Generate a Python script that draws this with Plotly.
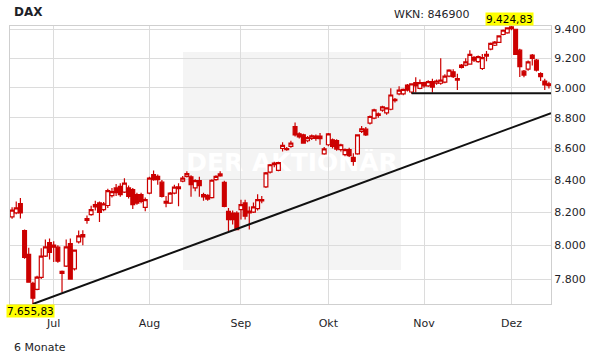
import numpy as np
import pandas as pd
import plotly.graph_objects as go

# ---------------- data ----------------
dates = pd.bdate_range("2013-06-17", "2013-12-13")

opens = [8171, 8196, 8253, 8088, 7945, 7775, 7740, 7810, 7935, 8016,
         8000, 7988, 7845, 7876, 8010, 7860, 8020, 8064, 8161, 8185,
         8247, 8257, 8216, 8241, 8302, 8350, 8360, 8324, 8350, 8339,
         8308, 8308, 8230, 8318, 8433, 8423, 8386, 8266, 8256, 8318,
         8345, 8392, 8422, 8420, 8350, 8396, 8308, 8304, 8290, 8402,
         8425, 8385, 8205, 8195, 8195, 8216, 8257, 8206, 8200, 8222,
         8277, 8356, 8449, 8507, 8460, 8600, 8600, 8613, 8742, 8695,
         8688, 8650, 8665, 8665, 8680, 8566, 8624, 8656, 8651, 8592,
         8560, 8592, 8543, 8566, 8710, 8725, 8765, 8798, 8825, 8850,
         8832, 8856, 8922, 8958, 8958, 9018, 8971, 9034, 8996, 9034,
         9012, 9041, 9030, 9030, 9038, 9078, 9108, 9062, 9138, 9153,
         9160, 9204, 9177, 9130, 9227, 9263, 9290, 9310, 9365, 9376,
         9418, 9402, 9256, 9112, 9126, 9222, 9187, 9096, 9045, 9026]
highs = [8230, 8265, 8287, 8095, 7985, 7785, 7820, 7982, 8034, 8040,
         8024, 8000, 7850, 8034, 8040, 7975, 8088, 8090, 8180, 8240,
         8270, 8265, 8262, 8345, 8350, 8375, 8380, 8410, 8365, 8350,
         8320, 8320, 8290, 8420, 8460, 8435, 8400, 8300, 8325, 8370,
         8380, 8425, 8455, 8430, 8405, 8420, 8320, 8310, 8405, 8430,
         8455, 8395, 8226, 8210, 8205, 8277, 8277, 8235, 8260, 8310,
         8300, 8450, 8500, 8515, 8515, 8640, 8610, 8650, 8768, 8705,
         8695, 8680, 8690, 8690, 8700, 8610, 8700, 8665, 8660, 8630,
         8600, 8605, 8570, 8690, 8745, 8740, 8815, 8860, 8835, 8880,
         8870, 8996, 8930, 9010, 8995, 9025, 9030, 9070, 9055, 9040,
         9050, 9060, 9055, 9200, 9090, 9125, 9125, 9095, 9160, 9200,
         9255, 9215, 9220, 9230, 9250, 9310, 9320, 9360, 9400, 9415,
         9424.83, 9405, 9265, 9120, 9185, 9230, 9195, 9105, 9060, 9040]
lows = [8160, 8188, 8161, 7920, 7778, 7655.83, 7735, 7800, 7930, 7915,
        7900, 7895, 7722, 7870, 7798, 7850, 8010, 8000, 8130, 8178,
        8210, 8140, 8205, 8225, 8290, 8300, 8295, 8318, 8285, 8220,
        8245, 8255, 8205, 8310, 8395, 8370, 8290, 8230, 8250, 8310,
        8237, 8385, 8415, 8295, 8330, 8295, 8270, 8270, 8285, 8395,
        8420, 8230, 8084, 8125, 8090, 8155, 8155, 8094, 8195, 8210,
        8255, 8350, 8440, 8480, 8455, 8580, 8585, 8605, 8678, 8665,
        8630, 8640, 8655, 8650, 8624, 8560, 8615, 8600, 8585, 8580,
        8550, 8545, 8490, 8560, 8700, 8680, 8755, 8790, 8800, 8840,
        8820, 8850, 8900, 8950, 8950, 8975, 8960, 8968, 8990, 9000,
        9005, 8968, 9020, 9020, 9030, 9070, 9065, 8984, 9130, 9145,
        9155, 9175, 9170, 9120, 9180, 9255, 9285, 9305, 9360, 9370,
        9395, 9225, 9072, 9070, 9115, 9150, 9110, 9045, 8984, 8995]
closes = [8212, 8227, 8196, 7927, 7782, 7689, 7811, 7935, 7990, 7957,
          7988, 7905, 7833, 7990, 7800, 7970, 8056, 8050, 8149, 8216,
          8232, 8199, 8251, 8333, 8327, 8320, 8308, 8380, 8297, 8247,
          8256, 8266, 8277, 8412, 8402, 8402, 8297, 8256, 8318, 8355,
          8357, 8412, 8440, 8371, 8396, 8365, 8294, 8281, 8398, 8423,
          8439, 8236, 8155, 8155, 8094, 8247, 8175, 8196, 8233, 8277,
          8270, 8444, 8496, 8496, 8510, 8620, 8592, 8634, 8688, 8674,
          8635, 8670, 8681, 8680, 8664, 8598, 8695, 8613, 8596, 8624,
          8592, 8554, 8518, 8688, 8727, 8688, 8808, 8852, 8815, 8872,
          8865, 8951, 8913, 8984, 8988, 8984, 9025, 9012, 9034, 9012,
          9041, 9004, 9045, 9051, 9078, 9119, 9075, 9051, 9153, 9175,
          9227, 9187, 9211, 9204, 9215, 9303, 9312, 9355, 9395, 9411,
          9407, 9227, 9142, 9085, 9176, 9199, 9119, 9075, 9018, 9014]

month_labels = ["Jul", "Aug", "Sep", "Okt", "Nov", "Dez"]
y_tick_values = [7800, 8000, 8200, 8400, 8600, 8800, 9000, 9200, 9400]

support_level = 8962
support_start = "2013-10-29"
trend_end_value = 8830
wkn = "846900"

# ---------------- helpers ----------------
W, H = 611, 364
ML, MR, MT, MB = 10, 60, 26, 60
PW, PH = W - ML - MR, H - MT - MB


def px_x(px):
    return (px - ML) / PW


def px_y(py):
    return 1 - (py - MT) / PH


def de_num(v):
    return f"{v:,.2f}".replace(",", "X").replace(".", ",").replace("X", ".")


RED = "#cc0000"
TXT = "#1e1e28"
FONT = "DejaVu Sans"

pos = np.arange(len(dates))
first_idx = pd.Series(pos, index=dates).groupby(dates.to_period("M")).first()
tick_pos = [int(first_idx[p]) for p in first_idx.index if p.month >= 7]

i_min = int(np.argmin(lows))
i_max = int(np.argmax(highs))
x_end = len(dates) - 0.5
i_support = int(np.where(dates == pd.Timestamp(support_start))[0][0])

fig = go.Figure()

fig.add_trace(go.Candlestick(
    x=pos, open=opens, high=highs, low=lows, close=closes,
    increasing=dict(line=dict(color=RED, width=1.2), fillcolor="white"),
    decreasing=dict(line=dict(color=RED, width=1.2), fillcolor=RED),
    whiskerwidth=0, showlegend=False, hoverinfo="skip",
))

fig.add_trace(go.Scatter(
    x=[pos[i_min], x_end], y=[lows[i_min], trend_end_value],
    mode="lines", line=dict(color="#111111", width=2),
    showlegend=False, hoverinfo="skip",
))
fig.add_trace(go.Scatter(
    x=[pos[i_support], x_end], y=[support_level, support_level],
    mode="lines", line=dict(color="#111111", width=2),
    showlegend=False, hoverinfo="skip",
))

fig.update_layout(
    width=W, height=H,
    margin=dict(l=ML, r=MR, t=MT, b=MB, pad=0),
    paper_bgcolor="white", plot_bgcolor="white",
    separators=",.",
    font=dict(family=FONT, size=11, color=TXT),
    boxgap=0.04, boxgroupgap=0.04,
    showlegend=False,
    xaxis=dict(
        range=[-0.5, len(dates) - 0.5],
        tickvals=tick_pos, ticktext=month_labels,
        showgrid=True, gridcolor="#dcdcdc", gridwidth=1,
        showline=True, linecolor="#cfcfcf", linewidth=1, mirror=True,
        ticks="", zeroline=False, rangeslider=dict(visible=False),
        tickfont=dict(size=11, color=TXT, family=FONT),
        ticklabelstandoff=9,
        fixedrange=True,
    ),
    yaxis=dict(
        type="log", side="right",
        range=[np.log10(min(lows)), np.log10(max(highs))],
        tickvals=y_tick_values, tickformat=",.0f",
        showgrid=True, gridcolor="#dcdcdc", gridwidth=1,
        showline=True, linecolor="#cfcfcf", linewidth=1, mirror=True,
        ticks="", zeroline=False,
        tickfont=dict(size=11, color=TXT, family=FONT),
        ticklabelstandoff=0,
        fixedrange=True,
    ),
)

# watermark
fig.add_shape(
    type="rect", xref="paper", yref="paper",
    x0=px_x(183), x1=px_x(401), y0=px_y(270), y1=px_y(52),
    fillcolor="#f4f4f4", line=dict(width=0), layer="below",
    label=dict(text="<b>DER AKTIONÄR</b>",
               font=dict(size=25, color="white", family=FONT),
               textposition="middle center"),
)

fig.add_annotation(
    xref="paper", yref="paper", x=px_x(12), y=px_y(12),
    xanchor="left", yanchor="middle", showarrow=False,
    text="<b>DAX</b>", font=dict(size=12, color=TXT, family=FONT),
)
fig.add_annotation(
    xref="paper", yref="paper", x=px_x(392), y=px_y(14),
    xanchor="left", yanchor="middle", showarrow=False,
    text=f"WKN: {wkn}", font=dict(size=11, color=TXT, family=FONT),
)
fig.add_annotation(
    xref="paper", yref="paper", x=px_x(12), y=px_y(347),
    xanchor="left", yanchor="middle", showarrow=False,
    text="6 Monate", font=dict(size=11, color=TXT, family=FONT),
)
fig.add_annotation(
    xref="x", yref="y", x=pos[i_min], y=np.log10(lows[i_min]),
    xanchor="center", yanchor="top", showarrow=False, xshift=-2,
    text=de_num(lows[i_min]), bgcolor="#ffff00", borderpad=0,
    font=dict(size=10.5, color="#000000", family=FONT),
)
fig.add_annotation(
    xref="x", yref="y", x=pos[i_max], y=np.log10(highs[i_max]),
    xanchor="center", yanchor="bottom", showarrow=False, xshift=-2,
    text=de_num(highs[i_max]), bgcolor="#ffff00", borderpad=0,
    font=dict(size=10.5, color="#000000", family=FONT),
)

fig.write_html("out.html", config=dict(displayModeBar=False),
               post_script="document.body.style.margin='0';")
